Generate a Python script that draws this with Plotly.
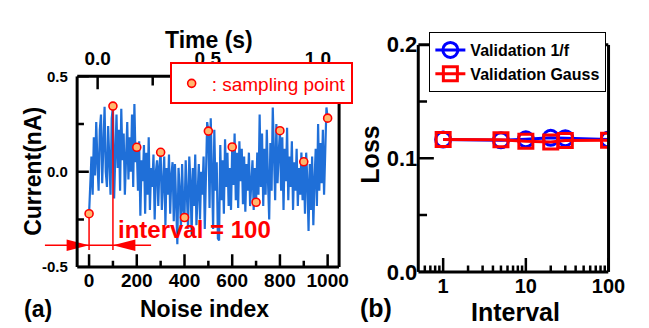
import math
import plotly.graph_objects as go

# ---------------- data ----------------
noise_index = list(range(0, 1001, 5))
noise_current = [
    -0.22, -0.05, 0.08, -0.12, 0.18, -0.02, 0.26, 0.05, -0.10, 0.22,
    0.30, -0.06, 0.15, 0.34, 0.00, -0.08, 0.24, 0.08, -0.12, 0.28,
    0.344, -0.14, 0.10, 0.30, 0.02, 0.22, -0.10, 0.33, 0.06, 0.20,
    -0.12, 0.12, 0.26, -0.04, 0.18, 0.00, 0.30, -0.08, 0.355, 0.05,
    0.128, -0.10, 0.16, -0.23, 0.06, -0.05, 0.14, -0.22, 0.10, -0.12,
    0.18, -0.20, 0.02, -0.08, 0.09, -0.25, 0.00, 0.06, -0.18, 0.03,
    0.102, -0.20, -0.05, 0.08, -0.28, 0.02, -0.12, 0.09, -0.22, -0.02,
    0.05, -0.26, 0.04, -0.15, -0.38, 0.02, -0.10, -0.30, 0.04, -0.20,
    -0.24, 0.06, -0.15, -0.30, 0.08, -0.05, -0.33, 0.02, -0.18, 0.09,
    -0.28, -0.05, 0.04, -0.25, 0.00, -0.12, 0.08, -0.30, 0.05, 0.26,
    0.213, -0.19, 0.28, 0.00, -0.30, 0.22, -0.10, 0.05, -0.35, -0.36,
    0.14, -0.15, 0.06, -0.22, 0.17, -0.08, 0.10, -0.18, 0.02, -0.20,
    0.13, -0.07, 0.20, -0.15, 0.10, -0.19, 0.16, -0.05, 0.12, -0.17,
    0.08, -0.21, 0.04, -0.10, 0.10, -0.18, -0.02, 0.06, -0.20, 0.02,
    -0.16, 0.10, -0.12, 0.30, -0.08, 0.20, -0.18, 0.12, -0.12, 0.22,
    -0.05, -0.25, 0.15, -0.10, 0.337, 0.00, -0.15, 0.25, -0.06, 0.10,
    0.215, -0.10, 0.18, -0.20, 0.12, -0.05, 0.23, -0.15, 0.08, -0.08,
    0.16, -0.20, 0.05, -0.10, 0.12, -0.18, 0.02, -0.12, 0.10, -0.15,
    0.052, -0.22, 0.10, -0.05, -0.31, 0.04, -0.20, 0.08, -0.28, -0.05,
    0.12, -0.18, 0.25, -0.10, 0.15, -0.06, 0.22, -0.12, 0.10, 0.337,
    0.281,
]
sample_every = 20  # every 100 noise-index steps
sample_index = noise_index[::sample_every]
sample_current = noise_current[::sample_every]

noise_ticks = [0, 200, 400, 600, 800, 1000]
noise_minor = [100, 300, 500, 700, 900]
time_ticks = [0.0, 0.5, 1.0]
time_ticktext = ["0.0", "0.5", "1.0"]
time_minor = [0.25, 0.75]
current_ticks = [-0.5, 0.0, 0.5]
current_ticktext = ["-0.5", "0.0", "0.5"]
current_minor = [-0.25, 0.25]

intervals = [1, 5, 10, 20, 30, 100]
loss_1f = [0.1165, 0.1158, 0.1167, 0.1180, 0.1177, 0.1165]
loss_gauss = [0.1165, 0.1163, 0.1150, 0.1143, 0.1156, 0.1159]
interval_ticks = [1, 10, 100]
interval_minor = [0.6, 0.7, 0.8, 0.9, 2, 3, 4, 5, 6, 7, 8, 9, 20, 30, 40, 50, 60, 70, 80, 90]
loss_ticks = [0.0, 0.1, 0.2]
loss_ticktext = ["0.0", "0.1", "0.2"]
loss_minor = [0.05, 0.15]

# ---------------- layout geometry ----------------
W, H = 649, 328
FONT = "Liberation Sans, Arial, sans-serif"
BLUE_NOISE = "#1f6fd8"
RED = "#ff0000"
INK = "#000000"
LEG_SHIFT = 17
NBSP = "\u00a0"

A_left, A_right, A_top, A_bot = 71, 340, 61, 267.5
B_left, B_right, B_top, B_bot = 421.3, 616.7, 26.7, 272.7
xdomA = [A_left / W, A_right / W]
ydomA = [1 - A_bot / H, 1 - A_top / H]
xrngA = [-50, 1048]
yrngA = [-0.5, 0.5]
trngA = [-0.093, 1.096]
xdomB = [B_left / W, B_right / W]
ydomB = [1 - B_bot / H, 1 - B_top / H]
xlimB = [0.5, 100]
xrngB = [math.log10(xlimB[0]), math.log10(xlimB[1])]
yrngB = [0, 0.2]


def xA_to_paper(v):
    return xdomA[0] + (v - xrngA[0]) / (xrngA[1] - xrngA[0]) * (xdomA[1] - xdomA[0])


fig = go.Figure()

fig.add_trace(go.Scatter(
    x=noise_index, y=noise_current, mode="lines",
    line=dict(color=BLUE_NOISE, width=2.2), showlegend=False,
    xaxis="x", yaxis="y", hoverinfo="skip"))

# invisible carrier so that the time axis exists
fig.add_trace(go.Scatter(x=time_ticks, y=[None] * len(time_ticks), mode="markers",
                         showlegend=False, hoverinfo="skip", xaxis="x3", yaxis="y"))

guide_bottom = -0.41
for k in range(2):
    fig.add_trace(go.Scatter(
        x=[sample_index[k], sample_index[k]], y=[sample_current[k], guide_bottom],
        mode="lines", line=dict(color=RED, width=1.5), showlegend=False,
        xaxis="x", yaxis="y", hoverinfo="skip"))

fig.add_trace(go.Scatter(
    x=sample_index, y=sample_current, mode="markers",
    marker=dict(size=8, color="#ffb870", line=dict(color=RED, width=1.6)),
    name=": sampling point", legend="legend2", xaxis="x", yaxis="y"))

fig.add_trace(go.Scatter(
    x=intervals, y=loss_1f, mode="lines+markers", name="Validation 1/f",
    line=dict(color="#0000ff", width=3),
    marker=dict(symbol="circle-open", size=15, color="#0000ff", line=dict(width=3)),
    xaxis="x2", yaxis="y2"))
fig.add_trace(go.Scatter(
    x=intervals, y=loss_gauss, mode="lines+markers", name="Validation Gauss",
    line=dict(color=RED, width=3),
    marker=dict(symbol="square-open", size=14, color=RED, line=dict(width=3)),
    xaxis="x2", yaxis="y2"))

# ---------------- shapes: interval arrow ----------------
arrow_y = -0.385
arrow_len = 94
arrow_half = 0.03
s0, s1 = sample_index[0], sample_index[1]
shapes = [
    dict(type="line", xref="paper", yref="y",
         x0=xA_to_paper(s0 - 185), x1=xA_to_paper(s1 + 160), y0=arrow_y, y1=arrow_y,
         line=dict(color=RED, width=1.5)),
    dict(type="path", xref="paper", yref="y", fillcolor=RED, line=dict(width=0),
         path=f"M {xA_to_paper(s0 - arrow_len)},{arrow_y - arrow_half} L {xA_to_paper(s0)},{arrow_y} "
              f"L {xA_to_paper(s0 - arrow_len)},{arrow_y + arrow_half} Z"),
    dict(type="path", xref="paper", yref="y", fillcolor=RED, line=dict(width=0),
         path=f"M {xA_to_paper(s1 + arrow_len)},{arrow_y - arrow_half} L {xA_to_paper(s1)},{arrow_y} "
              f"L {xA_to_paper(s1 + arrow_len)},{arrow_y + arrow_half} Z"),
]

# ---------------- shapes: frames and ticks, referenced to the axes ----------------
TICK_W = 2.5
FRAME_W = 3


def frame(xref, xlim, xdom, yref, ylim, ydom):
    for yy in ydom:  # bottom and top edges
        shapes.append(dict(type="line", xref=xref, yref="paper", x0=xlim[0], x1=xlim[1],
                           y0=yy, y1=yy, line=dict(color=INK, width=FRAME_W)))
    for xx in xdom:  # left and right edges
        shapes.append(dict(type="line", xref="paper", yref=yref, x0=xx, x1=xx,
                           y0=ylim[0], y1=ylim[1], line=dict(color=INK, width=FRAME_W)))


frame("x", xrngA, xdomA, "y", yrngA, ydomA)
frame("x2", xlimB, xdomB, "y2", yrngB, ydomB)


def xtick_shapes(xref, ydom, vals, length, top=False):
    f = length / H
    for v in vals:
        if top:
            y0, y1 = ydom[1], ydom[1] - f
        else:
            y0, y1 = ydom[0], ydom[0] + f
        shapes.append(dict(type="line", xref=xref, yref="paper", x0=v, x1=v, y0=y0, y1=y1,
                           line=dict(color=INK, width=TICK_W)))


def ytick_shapes(xdom, yref, vals, length):
    f = length / W
    for v in vals:
        shapes.append(dict(type="line", xref="paper", yref=yref, x0=xdom[0], x1=xdom[0] + f,
                           y0=v, y1=v, line=dict(color=INK, width=TICK_W)))


xtick_shapes("x", ydomA, noise_ticks, 14)
xtick_shapes("x", ydomA, noise_minor, 7)
xtick_shapes("x3", ydomA, time_ticks, 14, top=True)
xtick_shapes("x3", ydomA, time_minor, 10, top=True)
ytick_shapes(xdomA, "y", current_ticks, 12)
ytick_shapes(xdomA, "y", current_minor, 7)
xtick_shapes("x2", ydomB, interval_ticks, 15)
xtick_shapes("x2", ydomB, interval_minor, 7)
ytick_shapes(xdomB, "y2", loss_ticks, 16)
ytick_shapes(xdomB, "y2", loss_minor, 9)

bold = dict(family=FONT, color="black", weight="bold")
label_ax = dict(showline=False, ticks="", showgrid=False, zeroline=False, tickmode="array")

fig.update_layout(
    width=W, height=H, margin=dict(l=0, r=0, t=0, b=0),
    paper_bgcolor="white", plot_bgcolor="white",
    font=dict(family=FONT, color="black"),
    shapes=shapes,
    xaxis=dict(domain=xdomA, range=xrngA, anchor="y", tickvals=noise_ticks,
               tickfont=dict(size=19, **bold), **label_ax),
    xaxis3=dict(overlaying="x", side="top", anchor="y", range=trngA,
                tickvals=time_ticks, ticktext=time_ticktext, ticklabelstandoff=7,
                tickfont=dict(size=19, **bold), **label_ax),
    yaxis=dict(domain=ydomA, range=yrngA, anchor="x", tickvals=current_ticks,
               ticktext=[t + NBSP * 2 for t in current_ticktext],
               tickfont=dict(size=15, **bold), **label_ax),
    xaxis2=dict(domain=xdomB, type="log", range=xrngB, anchor="y2",
                tickvals=interval_ticks, tickfont=dict(size=20, **bold), **label_ax),
    yaxis2=dict(domain=ydomB, range=yrngB, anchor="x2", tickvals=loss_ticks,
                ticktext=loss_ticktext, tickfont=dict(size=22, **bold), **label_ax),
    legend=dict(x=432.7 / W, y=1 - (30 - LEG_SHIFT) / H, xanchor="left", yanchor="top",
                bgcolor="white", bordercolor="black", borderwidth=1,
                font=dict(size=16, **bold), tracegroupgap=0),
    legend2=dict(x=166 / W, y=1 - (63 - LEG_SHIFT) / H, xanchor="left", yanchor="top",
                 bgcolor="white", bordercolor=RED, borderwidth=2,
                 font=dict(family=FONT, size=19, color=RED)),
    showlegend=True,
)

ann = [
    dict(text="interval = 100", x=s1 + 12, y=-0.305, xref="x", yref="y",
         xanchor="left", font=dict(size=24, family=FONT, color=RED, weight="bold")),
    dict(text="Time (s)", x=206.3 / W, y=1 - 22 / H, font=dict(size=23, **bold)),
    dict(text="Current(nA)", x=25.5 / W, y=1 - 163.5 / H, textangle=-90, font=dict(size=23, **bold)),
    dict(text="Noise index", x=201.7 / W, y=1 - 313 / H, font=dict(size=23, **bold)),
    dict(text="(a)", x=31 / W, y=1 - 313 / H, font=dict(size=23, **bold)),
    dict(text="Loss", x=371.7 / W, y=1 - 145.8 / H, textangle=-90, font=dict(size=25, **bold)),
    dict(text="Interval", x=521 / W, y=1 - 316 / H, font=dict(size=25, **bold)),
    dict(text="(b)", x=378 / W, y=1 - 312 / H, font=dict(size=25, **bold)),
]
for a in ann:
    a.setdefault("xref", "paper")
    a.setdefault("yref", "paper")
    a.setdefault("xanchor", "center")
    a.setdefault("yanchor", "middle")
    a.setdefault("showarrow", False)
    fig.add_annotation(**a)

fig.write_html("out.html")
